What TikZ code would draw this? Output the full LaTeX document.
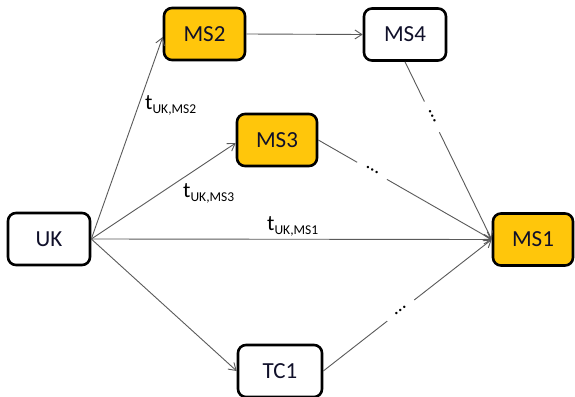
\documentclass[tikz,border=0pt]{standalone}
\usepackage{fontspec}
\setmainfont{Carlito}
\usetikzlibrary{arrows.meta,calc}
\definecolor{boxyellow}{HTML}{FFC60B}
\definecolor{linegray}{HTML}{5A5A5A}
\definecolor{txt}{HTML}{10102A}
\begin{document}
\begin{tikzpicture}[x=1pt,y=-1pt,
  box/.style={draw=black, line width=2.6pt, rounded corners=8pt, inner sep=0pt,
    minimum height=52pt, font=\fontsize{23}{26}\selectfont, text=txt},
  ybox/.style={box, fill=boxyellow},
  wbox/.style={box, fill=white},
  conn/.style={draw=linegray, line width=0.9pt, -{Straight Barb[length=7pt,width=9pt,line width=0.9pt]}},
  gap/.style={sloped, fill=white, inner sep=0pt, minimum width=34pt, minimum height=8pt, font=\fontsize{20}{20}\selectfont, text=black},
  lbl/.style={anchor=base west, inner sep=0pt, font=\fontsize{22}{24}\selectfont, text=black}
]
\useasboundingbox (0,0) rectangle (575,396);
\fill[white] (0,0) rectangle (575,396);

\node[ybox, minimum width=81pt] (MS2) at (204.5,34) {MS2};
\node[wbox, minimum width=82pt] (MS4) at (405,34.5) {MS4};
\node[ybox, minimum width=80pt] (MS3) at (277,140) {MS3};
\node[wbox, minimum width=82pt] (UK)  at (49,239) {UK};
\node[ybox, minimum width=80pt] (MS1) at (533,239.5) {MS1};
\node[wbox, minimum width=84pt] (TC1) at (280,371) {TC1};

\draw[conn] (UK.east) -- ($(MS2.west)+(0,3)$);
\draw[conn] (UK.east) -- ($(MS3.west)+(0,3)$);
\draw[conn] (UK.east) -- (MS1.west);
\draw[conn] (UK.east) -- (TC1.west);
\draw[conn] (MS2.east) -- (MS4.west);

\draw[conn] (MS4.south) -- node[gap, pos=0.31] {\raisebox{1pt}{\dots}} (MS1.west);
\draw[conn] (MS3.east) -- node[gap, pos=0.31] {\raisebox{1pt}{\dots}} (MS1.west);
\draw[conn] (TC1.east) -- node[gap, pos=0.46] {\raisebox{1pt}{\dots}} (MS1.west);

\node[lbl] (l2) at (145,109) {t\raisebox{-4pt}{\fontsize{13.5}{14}\selectfont UK,MS2}};
\node[lbl] (l3) at (183,197) {t\raisebox{-4pt}{\fontsize{13.5}{14}\selectfont UK,MS3}};
\node[lbl] (l1) at (267,230) {t\raisebox{-4pt}{\fontsize{13.5}{14}\selectfont UK,MS1}};
\end{tikzpicture}
\end{document}
